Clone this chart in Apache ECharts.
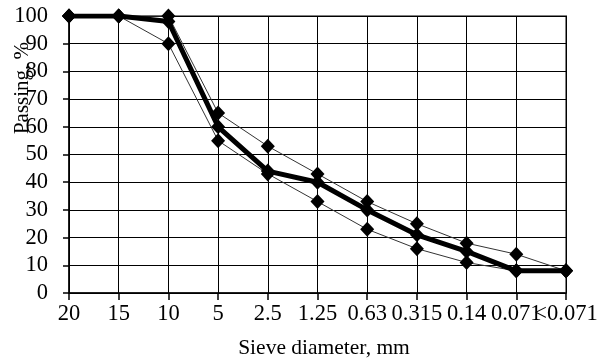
<!DOCTYPE html>
<html>
<head>
<meta charset="utf-8">
<script src="https://cdn.jsdelivr.net/npm/echarts@6/dist/echarts.min.js"></script>
<style>
  html, body { margin: 0; padding: 0; background: #fff; }
  #chart { width: 613px; height: 360px; }
</style>
</head>
<body>
<div id="chart"></div>
<script>
// Sieve sizes, mm (coarse to fine)
const sieves = ['20', '15', '10', '5', '2.5', '1.25', '0.63', '0.315', '0.14', '0.071', '<0.071'];
// Upper grading limit, % passing
const upperLimit = [100, 100, 100, 65, 53, 43, 33, 25, 18, 14, 8];
// Lower grading limit, % passing
const lowerLimit = [100, 100, 90, 55, 43, 33, 23, 16, 11, 8, 8];
// Mix grading curve, % passing
const mixCurve = [100, 100, 98, 60, 44, 40, 30, 21, 15, 8, 8];
// Y tick values
const yTicks = [0, 10, 20, 30, 40, 50, 60, 70, 80, 90, 100];

const FONT = '"Liberation Serif", "Times New Roman", serif';

const chart = echarts.init(document.getElementById('chart'), null, { renderer: 'canvas' });

const limitSeries = (name, data) => ({
  name,
  type: 'line',
  data,
  symbol: 'diamond',
  symbolSize: [14, 15],
  lineStyle: { color: '#333', width: 1 },
  itemStyle: { color: '#000' },
  z: 2,
  animation: false
});

chart.setOption({
  animation: false,
  grid: {
    left: 69, right: 47, top: 16, bottom: 67,
    show: true, borderColor: '#808080', borderWidth: 2, backgroundColor: 'transparent'
  },
  xAxis: {
    type: 'category',
    data: sieves,
    boundaryGap: false,
    axisLine: { lineStyle: { color: '#000', width: 1.5 } },
    axisTick: { show: true, length: 7, lineStyle: { color: '#000', width: 1.5 } },
    axisLabel: { color: '#000', fontFamily: FONT, fontSize: 22.5, margin: 10, interval: 0 },
    splitLine: { show: true, lineStyle: { color: '#000', width: 1 } }
  },
  yAxis: {
    type: 'value',
    min: yTicks[0],
    max: yTicks[yTicks.length - 1],
    interval: 10,
    axisLine: { show: true, lineStyle: { color: '#000', width: 1.5 } },
    axisTick: { show: true, length: 6, lineStyle: { color: '#000', width: 1.5 } },
    axisLabel: { color: '#000', fontFamily: FONT, fontSize: 22.5, margin: 21 },
    splitLine: { show: true, lineStyle: { color: '#000', width: 1 } }
  },
  graphic: [
    {
      type: 'text',
      position: [324, 348],
      style: {
        text: 'Sieve diameter, mm',
        font: '21.5px ' + FONT,
        fill: '#000',
        align: 'center',
        verticalAlign: 'middle'
      },
      z: 10
    },
    {
      type: 'text',
      position: [22, 88],
      rotation: Math.PI / 2,
      style: {
        text: 'Passing, %',
        font: '21px ' + FONT,
        fill: '#000',
        align: 'center',
        verticalAlign: 'middle'
      },
      z: 10
    }
  ],
  series: [
    limitSeries('Upper limit', upperLimit),
    limitSeries('Lower limit', lowerLimit),
    {
      name: 'Mix',
      type: 'line',
      data: mixCurve,
      symbol: 'diamond',
      symbolSize: [14, 15],
      lineStyle: { color: '#000', width: 5 },
      itemStyle: { color: '#000' },
      z: 3,
      animation: false
    }
  ]
});
</script>
</body>
</html>
